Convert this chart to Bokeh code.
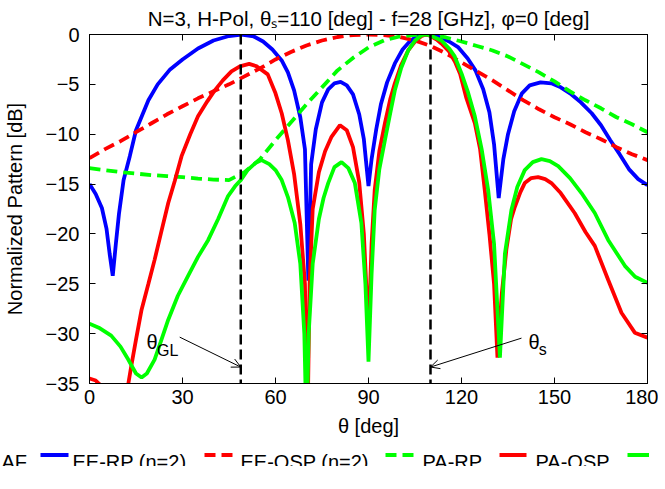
from bokeh.plotting import figure
from bokeh.layouts import column
from bokeh.models import (LinearAxis, FixedTicker, Span, Label, Arrow, OpenHead, Range1d, Title)
from bokeh.core.properties import value
from bokeh.embed import file_html
from bokeh.resources import INLINE

# ---------------- data ----------------
af_theta = [0, 2, 4, 5.5, 6.5, 7.5, 8.5, 9.5, 11, 13, 15, 19, 22, 26, 30, 35, 40, 45, 49, 53,
            56, 59, 62, 64, 66, 68, 69.5, 70.6, 71.5, 73, 75, 77, 79, 81, 83, 85, 87, 88.5, 90, 91,
            92.5, 94, 96, 98.5, 101, 103, 105, 107.5, 109, 111, 113.5, 116, 119, 122, 124.5, 127, 129, 130.5, 132, 133.5,
            135, 137, 139.5, 142, 145.5, 149, 152, 155, 158.5, 162, 165, 168, 171, 174, 177, 180]
af_db = [-15.0, -16.0, -17.4, -19.5, -22.0, -24.2, -21.0, -18.0, -14.6, -12.2, -9.6, -6.6, -5.0, -3.5, -2.5, -1.4, -0.6, -0.15, 0, -0.2,
         -0.7, -1.5, -2.6, -3.8, -5.6, -8.3, -11.5, -24.7, -13.0, -9.5, -6.8, -5.5, -4.9, -4.75, -5.1, -6.0, -8.0, -10.5, -15.2, -12.5,
         -9.5, -7.0, -4.8, -2.9, -1.5, -0.8, -0.3, -0.05, 0, -0.1, -0.3, -0.7, -1.3, -2.4, -3.6, -5.5, -7.8, -11.0, -16.4, -12.5,
         -10.0, -7.7, -5.9, -5.1, -4.8, -4.9, -5.3, -5.9, -6.8, -7.9, -9.1, -10.6, -12.0, -13.5, -14.5, -15.1]

ee_theta = [0, 5, 10, 15, 20, 25, 30, 35, 40, 45, 50, 55, 60, 65, 70, 75, 80, 85, 90,
            95, 100, 105, 110, 115, 120, 125, 130, 135, 140, 145, 150, 155, 160, 165, 170, 175, 180]
ee_rp_db = [-12.4, -11.5, -10.7, -9.8, -8.9, -8.0, -7.2, -6.4, -5.7, -5.0, -4.2, -3.4, -2.5, -1.75, -1.1, -0.6, -0.25, -0.05, 0,
            -0.05, -0.25, -0.6, -1.15, -1.9, -2.8, -3.7, -4.6, -5.6, -6.6, -7.5, -8.3, -9.0, -9.8, -10.5, -11.3, -12.0, -12.6]
ee_osp_db = [-13.4, -13.6, -13.8, -13.95, -14.1, -14.2, -14.3, -14.45, -14.55, -14.6, -13.8, -12.5, -10.6, -8.8, -7.0, -5.3, -3.6, -2.35, -1.3,
             -0.6, -0.2, -0.03, -0.02, -0.3, -0.7, -1.15, -1.6, -2.2, -3.0, -3.8, -4.7, -5.7, -6.6, -7.4, -8.3, -9.0, -9.8]

pa_rp_theta = [0, 2, 4, 6, 8, 10, 12, 13.5, 15, 16.8, 19, 21, 23, 25.4, 27.5, 29.7, 32.5, 35, 38, 40.4,
               43, 45.8, 48.5, 51.5, 54, 57.5, 60, 62, 64, 66, 68, 69.5, 70.3, 71, 72, 74, 76, 78, 80.8, 83,
               85, 87, 88.5, 90, 91, 92, 93.5, 95.3, 97, 98.5, 100.5, 102.8, 105, 107, 108.5, 110, 112, 113.5, 116, 118,
               119.5, 121.5, 124.3, 126, 127.5, 129, 130.5, 131.6, 133, 134.5, 136, 137.2, 139, 140.4, 142.5, 144.7, 147, 149, 152, 156.5,
               160, 163, 167.3, 171.6, 175.9, 180]
pa_rp_db = [-34.5, -34.7, -35.3, -37, -40, -40, -36, -33.2, -30.6, -27.6, -25, -22.6, -20, -16.9, -14.7, -12.2, -10, -8.2, -6.7, -5.6,
            -4.6, -3.7, -3.2, -2.95, -3.2, -4.0, -5.9, -7.9, -10.6, -14, -19, -25, -40, -25, -17.5, -13.8, -11.7, -10.3, -9.1, -9.6,
            -11.3, -14.8, -20, -30, -21, -15.6, -11.7, -8.9, -6.5, -4.9, -3.1, -1.6, -0.7, -0.17, 0, -0.15, -0.5, -0.9, -1.7, -2.8,
            -3.9, -6.3, -8.9, -11.5, -15.6, -20, -25, -32.4, -26, -21.5, -18.5, -17.3, -15.8, -14.9, -14.4, -14.3, -14.5, -14.9, -15.9, -17.9,
            -19.8, -21.2, -24.6, -27.9, -29.9, -30.4]

pa_osp_theta = [0, 3, 7, 10, 12.5, 15, 16.8, 18.5, 21, 23, 25.4, 28.5, 31.8, 35, 38.3, 41.5, 44.7, 47, 48.8, 51,
                53.5, 55.5, 58, 60, 62, 64, 66.2, 68, 69.3, 70, 70.7, 72, 74, 75.5, 77, 79, 81.3, 83.5, 85.6, 87.7, 89,
                90, 91, 92, 93.5, 95.3, 97, 98.5, 100.5, 102.8, 105, 107, 108.2, 110, 113.5, 116, 117.8, 120, 122, 124.3, 126.5,
                128.6, 130.5, 132.4, 134, 136.1, 138, 140.4, 143, 145.8, 148.5, 151.2, 155, 158.7, 163, 167.3, 172.7, 176, 180]
pa_osp_db = [-29.0, -29.4, -30.2, -31.3, -32.6, -34.0, -34.4, -34.0, -32.6, -30.8, -28.6, -26.2, -24.2, -22.3, -20.6, -18.5, -16.2, -15.2, -14.6, -13.6,
             -12.9, -12.6, -13.0, -13.6, -14.6, -16.3, -18.9, -23, -30, -40, -30, -23, -18.5, -16.4, -14.9, -13.3, -12.8, -13.4, -14.9, -18.9, -25,
             -32.8, -24, -17.6, -13.5, -10.6, -7.9, -5.6, -3.4, -1.6, -0.6, -0.1, 0, -0.1, -0.6, -1.4, -2.2, -3.9, -5.7, -8.2, -11.5,
             -15.6, -21, -32.4, -22, -17.6, -15.3, -13.6, -12.8, -12.5, -12.7, -13.2, -14.4, -15.9, -17.9, -20.6, -23.2, -24.3, -24.9]

theta_gl = 48.8
theta_s = 110

series_labels = ["AF", "EE-RP (n=2)", "EE-OSP (n=2)", "PA-RP", "PA-OSP"]
x_ticks = [0, 30, 60, 90, 120, 150, 180]
y_ticks = [-35, -30, -25, -20, -15, -10, -5, 0]
title_text = "N=3, H-Pol, θₛ=110 [deg] - f=28 [GHz], φ=0 [deg]"

# ---------------- styling ----------------
FONT = "Liberation Sans"
BLUE, RED, GREEN = "#0000ff", "#ff0000", "#00ff00"
LW = 3.8
DASH = "11 6"
W = 649


def no_frame_align(fig):
    try:
        fig.frame_align = False
    except AttributeError:
        pass


# ---------------- main plot ----------------
p = figure(frame_width=558, frame_height=349,
           min_border_left=80, min_border_right=11, min_border_top=34, min_border_bottom=59,
           x_range=Range1d(0, 180), y_range=Range1d(-35, 0),
           output_backend="svg", toolbar_location=None,
           x_axis_label="θ [deg]", y_axis_label="Normalized Pattern [dB]")
no_frame_align(p)
p.title = Title(text=title_text, align="center", text_font=FONT, text_font_size="20.5px",
                text_font_style="normal", text_color="black", standoff=9)
p.grid.visible = False
p.outline_line_color = "black"
p.outline_line_width = 1

p.add_layout(LinearAxis(), "right")
p.add_layout(LinearAxis(), "above")

for ax in p.xaxis:
    ax.ticker = FixedTicker(ticks=x_ticks)
for ax in p.yaxis:
    ax.ticker = FixedTicker(ticks=y_ticks)

for ax in p.axis:
    ax.major_tick_in = 6
    ax.major_tick_out = 0
    ax.minor_tick_in = 0
    ax.minor_tick_out = 0
    ax.axis_line_color = "black"
    ax.major_tick_line_color = "black"
    ax.major_label_text_font = FONT
    ax.major_label_text_font_size = "20px"
    ax.major_label_text_color = "black"
    ax.axis_label_text_font = FONT
    ax.axis_label_text_font_size = "20px"
    ax.axis_label_text_font_style = "normal"
    ax.axis_label_text_color = "black"

p.below[0].major_label_standoff = 6
p.below[0].axis_label_standoff = 8
p.left[0].major_label_standoff = 10
p.left[0].axis_label_standoff = 17
for ax in (p.right[0], p.above[0]):
    ax.major_label_text_color = None
    ax.major_label_text_font_size = "1px"
    ax.major_label_standoff = 0

# curves
p.line(af_theta, af_db, line_color=BLUE, line_width=LW)
p.line(ee_theta, ee_rp_db, line_color=RED, line_width=LW, line_dash=DASH)
p.line(ee_theta, ee_osp_db, line_color=GREEN, line_width=LW, line_dash=DASH)
p.line(pa_rp_theta, pa_rp_db, line_color=RED, line_width=LW)
p.line(pa_osp_theta, pa_osp_db, line_color=GREEN, line_width=LW)

for loc in (theta_gl, theta_s):
    p.add_layout(Span(location=loc, dimension="height", line_color="black",
                      line_width=2.5, line_dash="10 5"))


def lab(x, y, txt, size="20px"):
    p.add_layout(Label(x=x, y=y, text=txt, text_font=FONT, text_font_size=size,
                       text_align="left", text_baseline="alphabetic", text_color="black"))


lab(18.4, -30.85, "θ")
lab(21.8, -31.65, "GL", size="16px")
p.add_layout(Arrow(end=OpenHead(size=9, line_width=1, line_color="black"),
                   x_start=29.1, y_start=-30.35, x_end=theta_gl, y_end=-33.35,
                   line_width=1, line_color="black"))
lab(141.6, -30.85, "θ")
lab(144.9, -31.55, "s", size="16px")
p.add_layout(Arrow(end=OpenHead(size=9, line_width=1, line_color="black"),
                   x_start=139.35, y_start=-30.45, x_end=theta_s, y_end=-33.35,
                   line_width=1, line_color="black"))

# ---------------- legend strip (gnuplot style: text, then sample) ----------------
LH = 24
lg = figure(width=W, height=LH, x_range=Range1d(0, W), y_range=Range1d(LH, 0),
            x_axis_type=None, y_axis_type=None, min_border=0, title=None,
            output_backend="svg", toolbar_location=None, outline_line_color=None)
no_frame_align(lg)
lg.grid.visible = False
leg_text_x = [1, 72, 240, 422, 535]
leg_sample_x = [(40, 68), (204, 232), (385, 414), (499, 526), (627, 649)]
leg_styles = [(BLUE, "solid"), (RED, DASH), (GREEN, DASH), (RED, "solid"), (GREEN, "solid")]
lg.text(x=leg_text_x, y=[19.5] * len(leg_text_x), text=series_labels, text_font=value(FONT),
        text_font_size="20px", text_align="left", text_baseline="alphabetic", text_color="black")
for (s0, s1), (col, dash) in zip(leg_sample_x, leg_styles):
    lg.line([s0, s1], [12.5, 12.5], line_color=col, line_width=LW, line_dash=dash)

open("out.html", "w").write(file_html(column(p, lg, spacing=0), INLINE))
